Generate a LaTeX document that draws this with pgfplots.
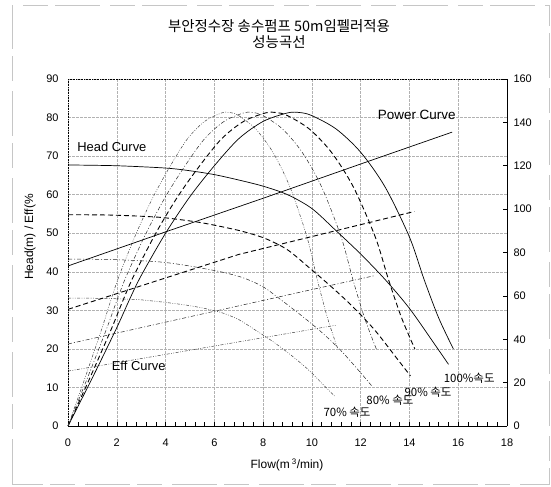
\documentclass[border=0pt]{standalone}
\usepackage{fontspec}
\setmainfont{Liberation Sans}
\newfontfamily\kr{Noto Sans CJK KR}
\usepackage{pgfplots}
\pgfplotsset{compat=1.18}

% line styles for the four pump speeds
\tikzset{
  s100/.style={black, line width=0.7bp},
  s90/.style={black, line width=0.9bp, dash pattern=on 5bp off 3bp},
  s80/.style={black!85, line width=0.5bp, dash pattern=on 4bp off 2bp on 1bp off 2bp},
  s70/.style={black!75, line width=0.5bp, dash pattern=on 3bp off 1.5bp on 0.8bp off 1.5bp on 0.8bp off 1.5bp},
}

\begin{document}
\begin{tikzpicture}[x=1bp,y=1bp]
\path[use as bounding box] (0,0) rectangle (551,487);
% outer page frame
\draw[gray!45, line width=0.7bp, dash pattern=on 45bp off 10bp on 25bp off 7bp] (12,3) rectangle (549,482);

% titles
\node[font=\kr\fontsize{14.5}{16}\selectfont] at (279,461) {부안정수장 송수펌프 50m임펠러적용};
\node[font=\kr\fontsize{14.5}{16}\selectfont] at (279,445) {성능곡선};
\node[rotate=90, font=\fontsize{12}{14}\selectfont] at (30,250) {Head(m) / Eff(\%};
\node[font=\fontsize{12}{14}\selectfont] at (287,22) {Flow(m\,\textsuperscript{3}/min)};

\begin{axis}[
  at={(68bp,61bp)}, anchor=south west,
  scale only axis, width=439bp, height=347bp,
  xmin=0, xmax=18, ymin=0, ymax=90,
  xtick={0,2,...,18}, ytick={0,10,...,90},
  minor x tick num=4,
  axis x line*=bottom, axis y line*=left,
  x axis line style={black, line width=0.7bp},
  y axis line style={black, line width=0.6bp, densely dotted},
  tick align=inside,
  major tick length=4bp, minor tick length=4bp,
  every tick/.style={black, line width=0.5bp},
  ytick style={draw=none},
  grid=major,
  major grid style={gray!60, line width=0.5bp, dash pattern=on 2.5bp off 1.5bp},
  ticklabel style={font=\fontsize{11}{12}\selectfont},
  /pgf/number format/assume math mode=true,
  yticklabel style={xshift=-6bp},
  xticklabel style={yshift=-9bp},
  clip=false,
]
% top border
\draw[black, line width=0.6bp, densely dotted] (rel axis cs:0,1) -- (rel axis cs:1,1);

% efficiency curves
\addplot[s100, smooth] coordinates {(0,0) (1,12.5) (2,25.5) (2.5,32.5) (3,39) (4,50) (5,59.5) (6,67.5) (7,74.5) (8,79) (9,81.2) (9.5,81.3) (10,80.5) (11,77) (12,71) (13,62) (14,49) (14.6,38) (15.2,28) (15.8,20)};
\addplot[s90, smooth] coordinates {(0,0) (0.9,12.5) (1.8,25.5) (2.25,32.5) (2.7,39) (3.6,50) (4.5,59.5) (5.4,67.5) (6.3,74.5) (7.2,79) (8.1,81.2) (8.55,81.3) (9,80.5) (9.9,77) (10.8,71) (11.7,62) (12.6,49) (13.14,38) (13.68,28) (14.22,20)};
\addplot[s80, smooth] coordinates {(0,0) (0.8,12.5) (1.6,25.5) (2,32.5) (2.4,39) (3.2,50) (4,59.5) (4.8,67.5) (5.6,74.5) (6.4,79) (7.2,81.2) (7.6,81.3) (8,80.5) (8.8,77) (9.6,71) (10.4,62) (11.2,49) (11.68,38) (12.16,28) (12.64,20)};
\addplot[s70, smooth] coordinates {(0,0) (0.7,12.5) (1.4,25.5) (1.75,32.5) (2.1,39) (2.8,50) (3.5,59.5) (4.2,67.5) (4.9,74.5) (5.6,79) (6.3,81.2) (6.65,81.3) (7,80.5) (7.7,77) (8.4,71) (9.1,62) (9.8,49) (10.22,38) (10.64,28) (11.06,20)};

% head curves
\addplot[s100, smooth] coordinates {(0,67.7) (2,67.5) (4,66.9) (5,66.2) (6,65.2) (7,63.8) (8,62.2) (9,60) (10,56.4) (11,50.6) (12,44.6) (13,38) (14,30.5) (15,21.5) (15.6,16)};
\addplot[s90, smooth] coordinates {(0,54.8) (1.8,54.7) (3.6,54.2) (4.5,53.6) (5.4,52.8) (6.3,51.7) (7.2,50.4) (8.1,48.6) (9,45.7) (9.9,41) (10.8,36.1) (11.7,30.8) (12.6,24.7) (13.5,17.4) (14.04,13)};
\addplot[s80, smooth] coordinates {(0,43.3) (1.6,43.2) (3.2,42.8) (4,42.4) (4.8,41.7) (5.6,40.8) (6.4,39.8) (7.2,38.4) (8,36.1) (8.8,32.4) (9.6,28.5) (10.4,24.3) (11.2,19.5) (12,13.8) (12.48,10.2)};
\addplot[s70, smooth] coordinates {(0,33.2) (1.4,33.1) (2.8,32.8) (3.5,32.4) (4.2,31.9) (4.9,31.3) (5.6,30.5) (6.3,29.4) (7,27.6) (7.7,24.8) (8.4,21.9) (9.1,18.6) (9.8,14.9) (10.5,10.5) (10.92,7.8)};

% curve names and speed labels
\node[font=\fontsize{13}{15}\selectfont] at (axis cs:1.8,72.4) {Head Curve};
\node[font=\fontsize{13.5}{15}\selectfont] at (axis cs:14.3,80.7) {Power Curve};
\node[font=\fontsize{13}{15}\selectfont] at (axis cs:2.9,15.6) {Eff Curve};
\node[font=\kr\fontsize{11.5}{13}\selectfont] at (axis cs:16.45,12.4) {100\%속도};
\node[font=\kr\fontsize{11.5}{13}\selectfont] at (axis cs:14.76,8.8) {90\% 속도};
\node[font=\kr\fontsize{11.5}{13}\selectfont] at (axis cs:13.2,6.7) {80\% 속도};
\node[font=\kr\fontsize{11.5}{13}\selectfont] at (axis cs:11.44,3.6) {70\% 속도};
\end{axis}

% shaft power on the right-hand scale
\begin{axis}[
  at={(68bp,61bp)}, anchor=south west,
  scale only axis, width=439bp, height=347bp,
  xmin=0, xmax=18, ymin=0, ymax=160,
  ytick={0,20,...,160},
  axis x line=none, axis y line*=right,
  y axis line style={black, line width=0.6bp},
  tick align=inside, major tick length=4bp,
  every tick/.style={black, line width=0.5bp},
  ticklabel style={font=\fontsize{11}{12}\selectfont},
  /pgf/number format/assume math mode=true,
  yticklabel style={xshift=3bp},
]
\addplot[s100] coordinates {(0,73.8) (4,89.5) (8,105) (12,120.8) (15.75,135.5)};
\addplot[s90] coordinates {(0,53.8) (7,79.1) (14.2,98.9)};
\addplot[s80] coordinates {(0,37.8) (6,52.9) (12.6,69.4)};
\addplot[s70] coordinates {(0,25.3) (5.5,35.9) (11,46.5)};
\end{axis}
\end{tikzpicture}
\end{document}
